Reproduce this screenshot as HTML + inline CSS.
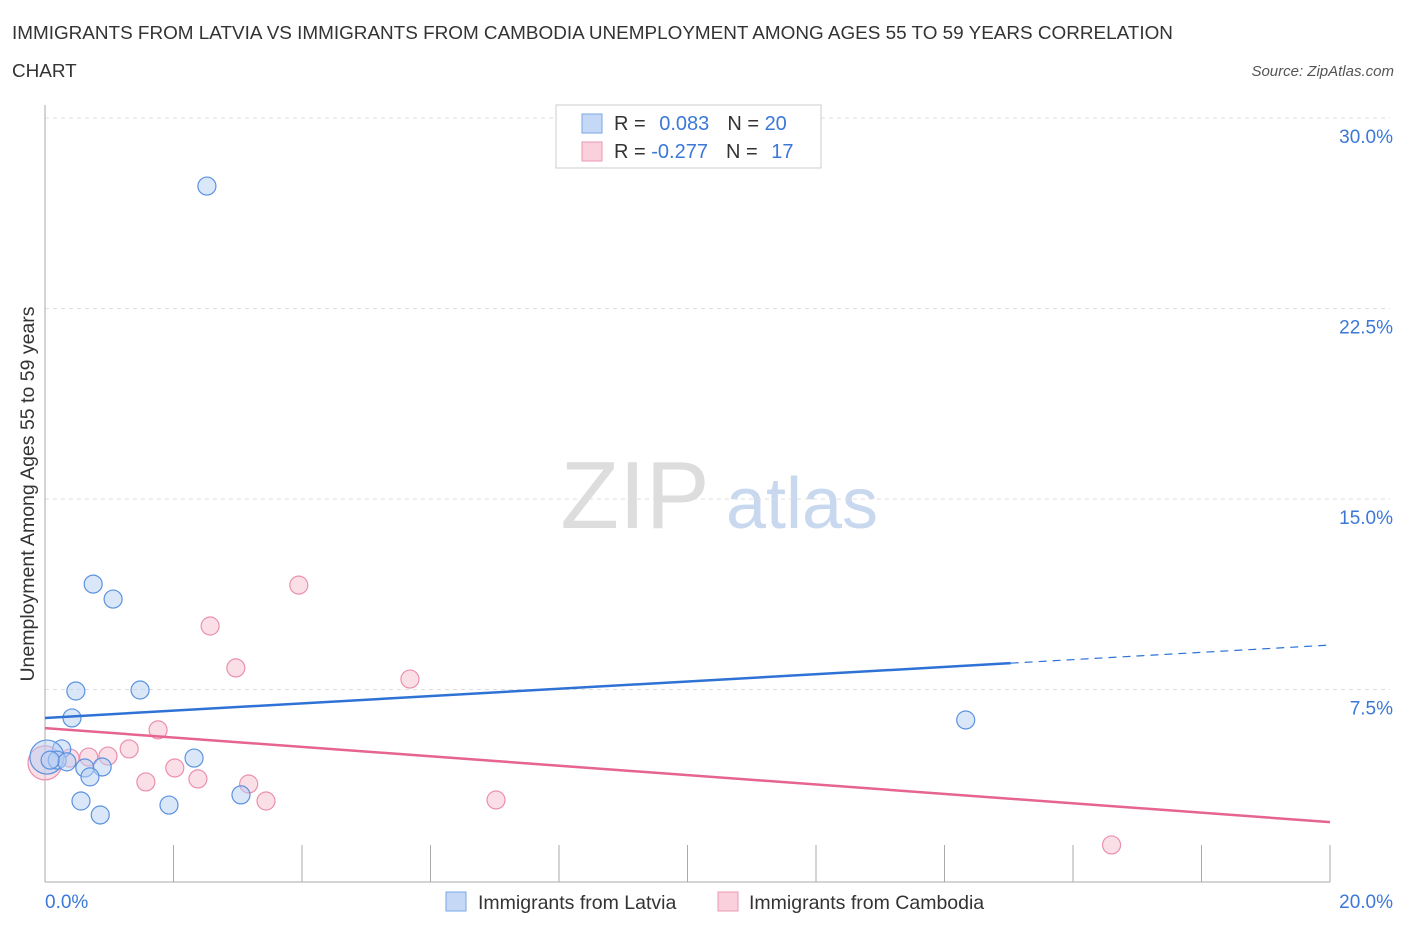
<!DOCTYPE html>
<html><head><meta charset="utf-8"><style>
body{margin:0;background:#fff;font-family:"Liberation Sans",sans-serif;}
svg text{font-family:"Liberation Sans",sans-serif;}
</style></head><body>
<svg width="1406" height="930" viewBox="0 0 1406 930" xmlns="http://www.w3.org/2000/svg">
<text x="12" y="39" font-size="18.9" fill="#333">IMMIGRANTS FROM LATVIA VS IMMIGRANTS FROM CAMBODIA UNEMPLOYMENT AMONG AGES 55 TO 59 YEARS CORRELATION</text>
<text x="12" y="77" font-size="18.9" fill="#333">CHART</text>
<text x="1394" y="76" font-size="15" fill="#555" font-style="italic" text-anchor="end">Source: ZipAtlas.com</text>
<text x="635" y="528" font-size="96" fill="#ddd" font-family="Liberation Serif" text-anchor="middle">ZIP</text>
<text x="802" y="528" font-size="72" fill="#c8d8ee" text-anchor="middle">atlas</text>
<g id="grid"></g>
<line x1="45" y1="105" x2="45" y2="882" stroke="#aaa"/>
<line x1="45" y1="882" x2="1330" y2="882" stroke="#aaa"/>
<g id="xticks"></g>
<text x="34" y="494" font-size="19.5" fill="#333" text-anchor="middle" transform="rotate(-90 34 494)">Unemployment Among Ages 55 to 59 years</text>
<text x="45" y="908" font-size="19" fill="#3b78d8">0.0%</text>
<text x="1393" y="908" font-size="19" fill="#3b78d8" text-anchor="end">20.0%</text>
<g id="pts"></g>
<g id="trend"></g>
<g>
<rect x="556" y="105" width="265" height="63" fill="#fff" stroke="#ccc"/>
<rect x="582" y="114" width="20" height="19" fill="#c5d9f6" stroke="#7aa6e6"/>
<rect x="582" y="142" width="20" height="19" fill="#f9d0dc" stroke="#eb98b2"/>
<text x="614" y="130" font-size="20" fill="#333">R = <tspan fill="#3b78d8" dx="8">0.083</tspan><tspan dx="18" fill="#333">N = </tspan><tspan fill="#3b78d8">20</tspan></text>
<text x="614" y="158" font-size="20" fill="#333">R = <tspan fill="#3b78d8">-0.277</tspan><tspan dx="18" fill="#333">N = </tspan><tspan fill="#3b78d8" dx="8">17</tspan></text>
</g>
<g>
<rect x="446" y="892" width="20" height="19" fill="#c5d9f6" stroke="#7aa6e6"/>
<text x="478" y="909" font-size="19.5" fill="#333">Immigrants from Latvia</text>
<rect x="718" y="892" width="20" height="19" fill="#f9d0dc" stroke="#eb98b2"/>
<text x="749" y="909" font-size="19.5" fill="#333">Immigrants from Cambodia</text>
</g>
</svg>
<script>
const yTicks=[7.5,15,22.5,30];
const yTickLabels=["7.5%","15.0%","22.5%","30.0%"];
const xTickVals=[0,2,4,6,8,10,12,14,16,18,20];
const latviaX=[2.52,0.75,1.06,0.48,1.48,0.42,14.33,0.26,0.03,0.19,0.34,0.62,0.89,0.70,2.32,0.56,1.93,3.05,0.86,0.08];
const latviaY=[27.32,11.65,11.06,7.44,7.48,6.38,6.30,5.16,4.84,4.72,4.65,4.41,4.45,4.06,4.80,3.11,2.95,3.35,2.56,4.72];
const cambodiaX=[3.95,2.57,2.97,5.68,1.76,1.31,0.98,0.68,0.39,0.0,2.02,1.57,2.38,3.17,3.44,7.02,16.6];
const cambodiaY=[11.61,10.0,8.35,7.91,5.91,5.16,4.88,4.84,4.80,4.61,4.41,3.86,3.98,3.78,3.11,3.15,1.38];
const latviaTrend=[6.38,9.25];
const cambodiaTrend=[5.98,2.28];
const NS="http://www.w3.org/2000/svg";
const sx=v=>45+v/20*1285, sy=v=>880-v*25.4;
function mk(t,a,p){const e=document.createElementNS(NS,t);for(const k in a)e.setAttribute(k,a[k]);p.appendChild(e);return e;}
const grid=document.getElementById('grid');
yTicks.forEach((v,i)=>{
 const l=mk('line',{x1:45,x2:1390,y1:sy(v),y2:sy(v),stroke:'#ddd','stroke-dasharray':'4,4'},grid);
 
 
 const t=mk('text',{x:1393,y:sy(v)+25,'font-size':19,fill:'#3b78d8','text-anchor':'end'},grid);
 t.textContent=yTickLabels[i];
 
 
});
const xt=document.getElementById('xticks');
xTickVals.forEach(v=>{
 const l=mk('line',{x1:sx(v),x2:sx(v),y1:845,y2:882,stroke:'#aaa'},xt);
 
 
});
const pts=document.getElementById('pts');
function series(X,Y,fill,stroke,name,bigIdx){
 X.forEach((x,i)=>{
  const c=mk('circle',{cx:sx(x),cy:sy(Y[i]),r:i===bigIdx?17:9,fill:fill,'fill-opacity':0.5,stroke:stroke,'stroke-width':1.2},pts);
  
  
 });
}
series(cambodiaX,cambodiaY,'#f6bfd0','#eb8fae','cambodia-point',9);
series(latviaX,latviaY,'#b5cff3','#5a92e0','latvia-point',8);
const tr=document.getElementById('trend');
const xs=15.03;
const yb=latviaTrend[0]+(latviaTrend[1]-latviaTrend[0])*xs/20;
let l=mk('line',{x1:sx(0),y1:sy(latviaTrend[0]),x2:sx(xs),y2:sy(yb),stroke:'#2e72d6','stroke-width':2.5},tr);


l=mk('line',{x1:sx(xs),y1:sy(yb),x2:sx(20),y2:sy(latviaTrend[1]),stroke:'#2e72d6','stroke-width':1.2,'stroke-dasharray':'8,6'},tr);


l=mk('line',{x1:sx(0),y1:sy(cambodiaTrend[0]),x2:sx(20),y2:sy(cambodiaTrend[1]),stroke:'#e6648f','stroke-width':2.5},tr);


</script>
</body></html>
